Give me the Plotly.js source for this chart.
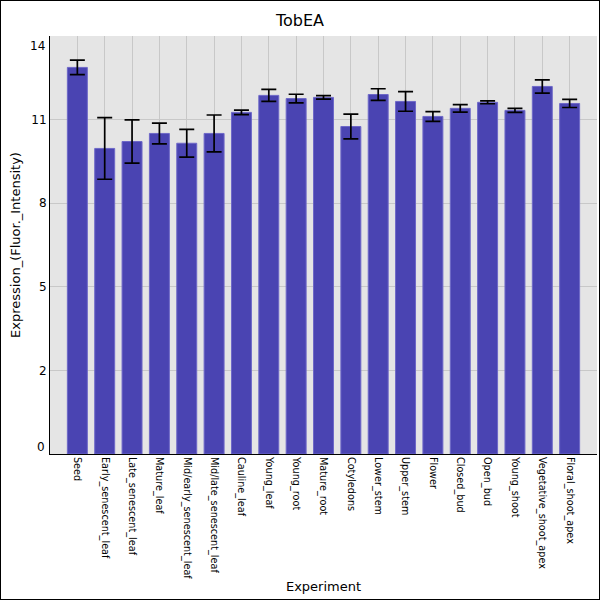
<!DOCTYPE html>
<html>
<head>
<meta charset="utf-8">
<script src="https://cdn.plot.ly/plotly-3.0.1.min.js"></script>
<style>
  body { margin: 0; background: #fff; }
  #frame { width: 600px; height: 600px; box-sizing: border-box; border: 1px solid #000; }
</style>
</head>
<body>
<div id="frame"><div id="plot-1"></div></div>
<script>
// Chart data
var experiments = ["Seed", "Early_senescent_leaf", "Late_senescent_leaf", "Mature_leaf",
  "Mid/early_senescent_leaf", "Mid/late_senescent_leaf", "Cauline_leaf", "Young_leaf",
  "Young_root", "Mature_root", "Cotyledons", "Lower_stem", "Upper_stem", "Flower",
  "Closed_bud", "Open_bud", "Young_shoot", "Vegetative_shoot_apex", "Floral_shoot_apex"];
var expression = [13.41, 10.60, 10.84, 11.12, 10.78, 11.12, 11.85, 12.44, 12.33, 12.37,
  11.36, 12.47, 12.23, 11.71, 11.99, 12.20, 11.92, 12.75, 12.16];
var errors = [0.25, 1.07, 0.75, 0.36, 0.48, 0.64, 0.08, 0.21, 0.15, 0.06,
  0.43, 0.20, 0.34, 0.17, 0.13, 0.05, 0.07, 0.23, 0.14];

// y ticks: labels are truncated values of 0, 2.9, 5.8 ...
var yTickVals = [2.9, 5.8, 8.7, 11.6];
var yTickText = ["2", "5", "8", "11"];
var yEndVals = [0.24, 14.17];
var yEndText = ["0", "14"];

var trace = {
  x: experiments,
  y: expression,
  type: 'bar',
  width: 0.73,
  marker: { color: 'rgb(74,68,178)', line: { color: 'rgb(110,104,200)', width: 1 } },
  error_y: { type: 'data', array: errors, visible: true, color: '#000', thickness: 1.7, width: 7.5 }
};

var tickFont = { family: 'DejaVu Sans', size: 12, color: '#000' };

var layout = {
  width: 598,
  height: 598,
  margin: { l: 49, r: 2, t: 35, b: 145 },
  paper_bgcolor: '#fff',
  plot_bgcolor: '#e5e5e5',
  showlegend: false,
  font: { family: 'DejaVu Sans', color: '#000' },
  title: { text: 'TobEA', font: { size: 16, family: 'DejaVu Sans' }, x: 0.5, xanchor: 'center', y: 0.967, yanchor: 'middle' },
  xaxis: {
    range: [-1, 19],
    tickangle: 90,
    tickfont: { family: 'DejaVu Sans', size: 9.7, color: '#000' },
    showgrid: true,
    gridcolor: '#c8c8c8',
    showline: true,
    linecolor: '#000',
    linewidth: 1,
    ticks: '',
    title: { text: 'Experiment', font: { size: 13 }, standoff: 3 }
  },
  yaxis: {
    range: [0, 14.5],
    tickmode: 'array',
    tickvals: yTickVals,
    ticktext: yTickText,
    tickfont: tickFont,
    showgrid: true,
    gridcolor: '#c8c8c8',
    zeroline: false,
    showline: true,
    linecolor: '#000',
    linewidth: 1,
    ticks: '',
    title: { text: 'Expression_(Fluor._Intensity)', font: { size: 13 }, standoff: 7 }
  },
  annotations: yEndVals.map(function (v, i) {
    return { xref: 'paper', yref: 'y', x: 0, y: v, xanchor: 'right', yanchor: 'middle',
      xshift: -3, text: yEndText[i], showarrow: false, font: tickFont };
  })
};

Plotly.newPlot('plot-1', [trace], layout, { displayModeBar: false, staticPlot: true });
</script>
</body>
</html>
